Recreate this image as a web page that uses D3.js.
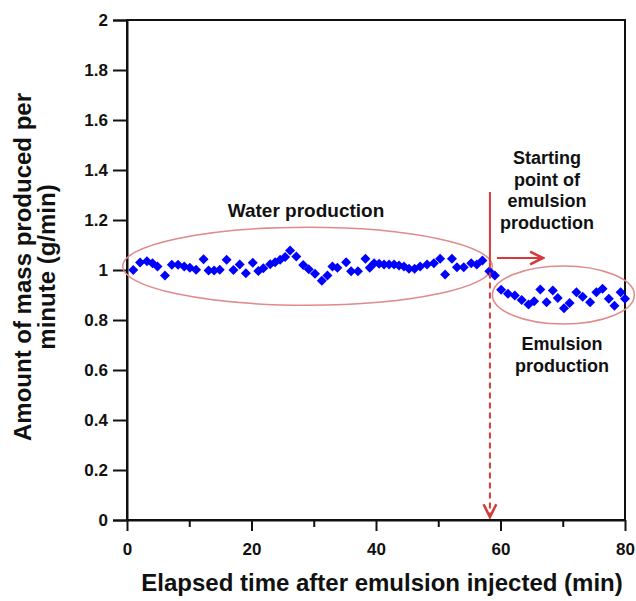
<!DOCTYPE html>
<html><head><meta charset="utf-8">
<script src="https://cdn.jsdelivr.net/npm/d3@7"></script>
<style>body{margin:0;background:#fff;} text{font-family:Arial,"Liberation Sans",sans-serif;font-weight:bold;}</style>
</head><body>
<svg id="chart" width="636" height="601"></svg>
<script>
const timeMin = [1.0,2.1,3.2,4.1,4.9,6.1,7.2,8.2,9.2,10.1,11.1,12.3,13.1,14.0,14.9,16.0,17.1,18.1,19.1,20.2,
  21.1,21.9,23.0,23.8,24.6,25.4,26.2,27.2,28.3,29.2,30.2,31.3,32.2,33.0,33.8,35.2,36.0,37.1,38.3,39.0,
  39.7,40.5,41.3,42.1,42.9,43.7,44.5,45.3,46.2,47.1,48.2,49.3,50.3,51.1,52.2,53.0,54.1,55.3,56.2,57.1,
  58.2,59.1,60.1,61.2,62.3,63.4,64.5,65.4,66.4,67.4,68.4,69.2,70.2,71.1,72.2,73.2,74.4,75.4,76.4,77.4,78.3,79.3,80.0];
const massRate = [1.000,1.030,1.035,1.027,1.014,0.978,1.021,1.021,1.014,1.009,1.001,1.043,0.998,0.998,1.001,1.041,1.000,1.022,0.987,1.029,
  0.996,1.007,1.023,1.031,1.041,1.052,1.078,1.054,1.020,1.003,0.985,0.957,0.978,1.014,1.009,1.031,0.995,0.995,1.045,1.009,
  1.027,1.025,1.022,1.022,1.022,1.018,1.014,1.005,1.005,1.014,1.022,1.027,1.045,0.982,1.045,1.011,1.011,1.027,1.022,1.038,
  0.995,0.978,0.921,0.905,0.898,0.880,0.862,0.875,0.922,0.871,0.918,0.888,0.847,0.868,0.911,0.893,0.871,0.911,0.925,0.885,0.857,0.911,0.885];
const xTicks = [0,10,20,30,40,50,60,70,80];
const xLabels = [0,20,40,60,80];
const yTicks = [0,0.2,0.4,0.6,0.8,1,1.2,1.4,1.6,1.8,2];
const startTime = 58.3;

const svg = d3.select("#chart");
const L=127, R=625, T=20, B=520;
const x = d3.scaleLinear().domain([0,80]).range([L,R]);
const y = d3.scaleLinear().domain([0,2]).range([B,T]);

// frame
svg.append("rect").attr("x",L).attr("y",T).attr("width",R-L).attr("height",B-T)
  .attr("fill","none").attr("stroke","#111").attr("stroke-width",2);

// y axis
const yAxis = d3.axisLeft(y).tickValues(yTicks).tickSize(14).tickPadding(5)
  .tickFormat(d=>d3.format("")(+d.toFixed(1)));
const gy = svg.append("g").attr("transform",`translate(${L},0)`).call(yAxis);
gy.select(".domain").attr("stroke","#111").attr("stroke-width",2);
gy.selectAll(".tick line").attr("stroke","#111").attr("stroke-width",2);
gy.selectAll(".tick text").attr("font-size",17).attr("fill","#111");

// x axis
const xAxis = d3.axisBottom(x).tickValues(xTicks).tickSize(0).tickFormat("");
const gx = svg.append("g").attr("transform",`translate(0,${B})`).call(xAxis);
gx.select(".domain").attr("stroke","#111").attr("stroke-width",2);
gx.selectAll(".tick line").attr("stroke","#111").attr("stroke-width",2)
  .attr("y2",d=>xLabels.includes(d)?11:7);
gx.selectAll(".tick").filter(d=>xLabels.includes(d)).append("text")
  .attr("y",35).attr("text-anchor","middle").attr("font-size",17).attr("fill","#111").text(d=>d);

// titles
svg.append("text").attr("x",382).attr("y",591).attr("text-anchor","middle")
  .attr("font-size",24).attr("fill","#111").text("Elapsed time after emulsion injected (min)");
const yt = svg.append("text").attr("transform","translate(31,267) rotate(-90)")
  .attr("text-anchor","middle").attr("font-size",24).attr("fill","#111");
yt.append("tspan").attr("x",0).attr("dy",0).text("Amount of mass produced per");
yt.append("tspan").attr("x",0).attr("dy",24).text("minute (g/min)");

// ellipses
const ell = "#e08a8a";
svg.append("ellipse").attr("cx",x(29)).attr("cy",y(1.015)).attr("rx",x(29.7)-x(0)).attr("ry",39)
  .attr("fill","none").attr("stroke",ell).attr("stroke-width",1.5);
svg.append("ellipse").attr("cx",x(70.1)).attr("cy",y(0.9)).attr("rx",x(11.4)-x(0)).attr("ry",29)
  .attr("fill","none").attr("stroke",ell).attr("stroke-width",1.5);

// data
const pts = timeMin.map((t,i)=>({t, v:massRate[i]}));
svg.append("g").selectAll("path").data(pts).join("path")
  .attr("d", d3.symbol().type(d3.symbolSquare).size(50))
  .attr("transform",d=>`translate(${x(d.t)},${y(d.v)}) rotate(45)`)
  .attr("fill","#0000ff");

// start-point markers
const red = "#d63a3a";
const defs = svg.append("defs");
defs.append("marker").attr("id","ah").attr("viewBox","0 0 10 10").attr("refX",9).attr("refY",5)
  .attr("markerWidth",8).attr("markerHeight",8).attr("orient","auto-start-reverse")
  .append("path").attr("d","M1,1 L9,5 L1,9").attr("fill","none").attr("stroke",red).attr("stroke-width",1.6);
const xs = x(startTime);
svg.append("line").attr("x1",xs).attr("x2",xs).attr("y1",192).attr("y2",y(1.03))
  .attr("stroke",red).attr("stroke-width",2);
svg.append("line").attr("x1",xs).attr("x2",xs).attr("y1",y(1.03)).attr("y2",B-3)
  .attr("stroke",red).attr("stroke-width",2).attr("stroke-dasharray","6,4").attr("marker-end","url(#ah)");
svg.append("line").attr("x1",xs+7).attr("x2",xs+53).attr("y1",258).attr("y2",258)
  .attr("stroke",red).attr("stroke-width",2).attr("marker-end","url(#ah)");

// annotation text
svg.append("text").attr("x",306).attr("y",217).attr("text-anchor","middle").attr("font-size",19)
  .attr("fill","#111").text("Water production");
const st = svg.append("text").attr("text-anchor","middle").attr("font-size",18).attr("fill","#111");
["Starting","point of","emulsion","production"].forEach((s,i)=>
  st.append("tspan").attr("x",547).attr("y",164+i*21.7).text(s));
const et = svg.append("text").attr("text-anchor","middle").attr("font-size",18).attr("fill","#111");
["Emulsion","production"].forEach((s,i)=>
  et.append("tspan").attr("x",562).attr("y",350+i*22).text(s));
</script>
</body></html>
